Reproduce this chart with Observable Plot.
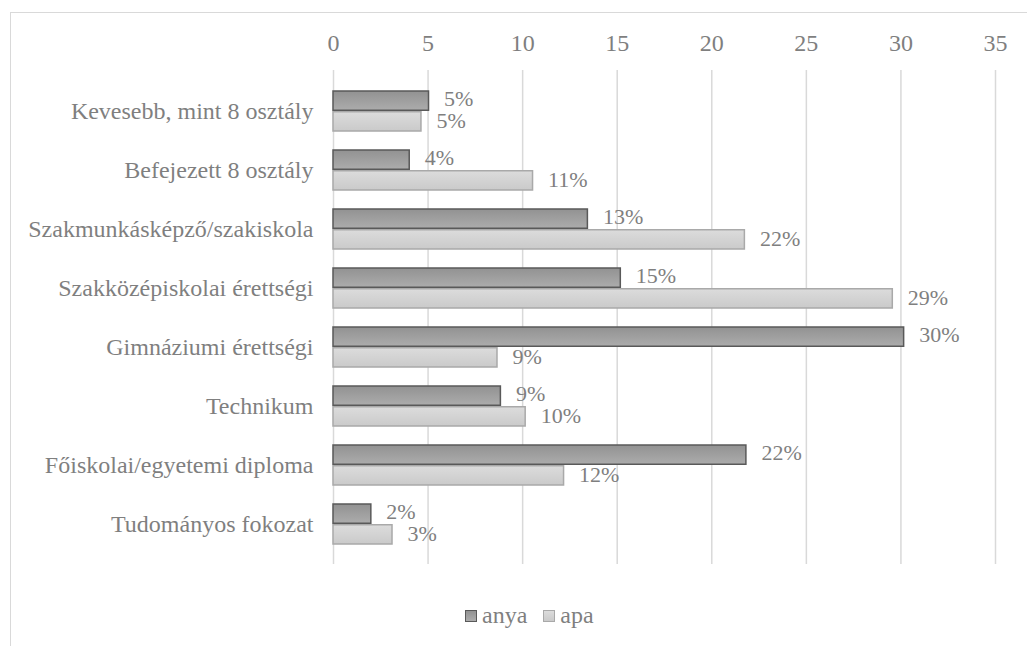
<!DOCTYPE html>
<html>
<head>
<meta charset="utf-8">
<script src="https://cdn.jsdelivr.net/npm/d3@7"></script>
<script src="https://cdn.jsdelivr.net/npm/@observablehq/plot@0.6"></script>
<style>
  html, body { margin: 0; padding: 0; background: #fff; overflow: hidden; }
  body { width: 1027px; height: 646px; position: relative; font-family: "Liberation Serif", "Times New Roman", serif; }
  #frame { position: absolute; left: 10px; top: 12px; width: 1200px; height: 800px; border: 1px solid #d9d9d9; box-sizing: border-box; }
  #chart { position: absolute; left: 0; top: 0; }
  #chart svg text { font-family: "Liberation Serif", "Times New Roman", serif; }
  #legend { position: absolute; left: 465px; top: 601px; display: flex; align-items: center; font-size: 24px; line-height: 28px; color: #7f7f7f; }
  #legend .sw { width: 12px; height: 12px; box-sizing: border-box; margin-right: 5px; margin-top: 2px; }
  #legend .item { display: flex; align-items: center; margin-right: 16px; }
</style>
</head>
<body>
<div id="frame"></div>
<div id="chart"></div>
<div id="legend"></div>
<script>
const categories = [
  "Kevesebb, mint 8 osztály",
  "Befejezett 8 osztály",
  "Szakmunkásképző/szakiskola",
  "Szakközépiskolai érettségi",
  "Gimnáziumi érettségi",
  "Technikum",
  "Főiskolai/egyetemi diploma",
  "Tudományos fokozat"
];
const seriesNames = ["anya", "apa"];
const anya = [5.05, 4.03, 13.45, 15.19, 30.17, 8.85, 21.83, 2.0];
const apa  = [4.65, 10.55, 21.75, 29.57, 8.67, 10.16, 12.19, 3.12];
const anyaLabels = ["5%", "4%", "13%", "15%", "30%", "9%", "22%", "2%"];
const apaLabels  = ["5%", "11%", "22%", "29%", "9%", "10%", "12%", "3%"];
const xTicks = [0, 5, 10, 15, 20, 25, 30, 35];

const rows = [];
categories.forEach((c, i) => {
  rows.push({cat: c, series: "anya", value: anya[i], label: anyaLabels[i]});
  rows.push({cat: c, series: "apa", value: apa[i], label: apaLabels[i]});
});
const rowsAnya = rows.filter(d => d.series === "anya");
const rowsApa = rows.filter(d => d.series === "apa");

const textColor = "#7f7f7f";
const half = 20.75;
const serif = "'Liberation Serif', 'Times New Roman', serif";

const plot = Plot.plot({
  width: 1027,
  height: 590,
  marginTop: 70,
  marginBottom: 26,
  marginLeft: 333,
  marginRight: 32,
  style: {fontFamily: serif, fontSize: "24px", color: textColor, background: "transparent"},
  x: {domain: [0, 35], ticks: xTicks},
  y: {domain: categories, padding: 0.33},
  marks: [
    Plot.gridX(xTicks, {stroke: "#d9d9d9", strokeOpacity: 1, strokeWidth: 1.5}),
    Plot.axisX({anchor: "top", ticks: xTicks, tickSize: 0, tickPadding: 20, fontSize: 24, fontFamily: serif, fill: textColor, label: null}),
    Plot.axisY({anchor: "left", tickSize: 0, tickPadding: 20, fontSize: 24, fontFamily: serif, fill: textColor, label: null}),
    Plot.barX(rowsAnya, {x: "value", y: "cat", insetBottom: half, fill: "url(#gAnya)", stroke: "#595959", strokeWidth: 1.5}),
    Plot.barX(rowsApa, {x: "value", y: "cat", insetTop: half, fill: "url(#gApa)", stroke: "#a9a9a9", strokeWidth: 1.5}),
    Plot.text(rowsAnya, {x: "value", y: "cat", text: "label", dx: 15, dy: -12.5, textAnchor: "start", fontSize: 22, fontFamily: serif, fill: textColor}),
    Plot.text(rowsApa, {x: "value", y: "cat", text: "label", dx: 15, dy: 9.5, textAnchor: "start", fontSize: 22, fontFamily: serif, fill: textColor})
  ]
});

plot.insertAdjacentHTML("afterbegin", `
<defs>
  <linearGradient id="gAnya" x1="0" y1="0" x2="0" y2="1">
    <stop offset="0" stop-color="#929292"/>
    <stop offset="1" stop-color="#acacac"/>
  </linearGradient>
  <linearGradient id="gApa" x1="0" y1="0" x2="0" y2="1">
    <stop offset="0" stop-color="#dcdcdc"/>
    <stop offset="1" stop-color="#cacaca"/>
  </linearGradient>
</defs>`);
document.getElementById("chart").appendChild(plot);

const legend = document.getElementById("legend");
const swatchStyles = {
  anya: "background: linear-gradient(#929292, #acacac); border: 1.5px solid #595959;",
  apa: "background: linear-gradient(#dcdcdc, #cacaca); border: 1.5px solid #a9a9a9;"
};
seriesNames.forEach(name => {
  const item = document.createElement("div");
  item.className = "item";
  item.innerHTML = `<div class="sw" style="${swatchStyles[name]}"></div><span>${name}</span>`;
  legend.appendChild(item);
});
</script>
</body>
</html>
